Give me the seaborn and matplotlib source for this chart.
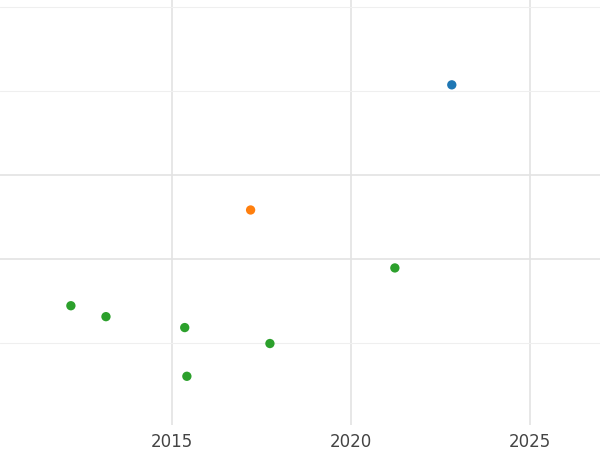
import matplotlib
matplotlib.use("Agg")
import matplotlib.pyplot as plt
import seaborn as sns
import pandas as pd
from matplotlib.ticker import MultipleLocator, FixedLocator

# data
years = [2022.82, 2017.2, 2012.18, 2013.16, 2015.36, 2015.42, 2017.74, 2021.23]
values = [4.07, 2.58, 1.44, 1.31, 1.18, 0.60, 0.99, 1.89]
groups = ["a", "b", "c", "c", "c", "c", "c", "c"]

df = pd.DataFrame({"year": years, "value": values, "group": groups})

sns.set_style("white")
fig = plt.figure(figsize=(6, 4.5), dpi=100)
ax = fig.add_axes([0, 25 / 450, 1, 425 / 450])

sns.scatterplot(data=df, x="year", y="value", hue="group",
                palette=["#1f77b4", "#ff7f0e", "#2ca02c"],
                s=45, edgecolor="none", legend=False, ax=ax, zorder=3)

ax.set_xlim(2010.2, 2026.96)
ax.set_ylim(0.02, 5.08)
ax.xaxis.set_major_locator(MultipleLocator(5))
ax.yaxis.set_major_locator(FixedLocator([2, 3]))
ax.yaxis.set_minor_locator(FixedLocator([1, 4, 5]))
ax.grid(axis="x", which="major", color="#e3e3e3", linewidth=1.2)
ax.grid(axis="y", which="major", color="#e3e3e3", linewidth=1.2)
ax.grid(axis="y", which="minor", color="#efefef", linewidth=0.8)
ax.tick_params(which="both", length=0, labelleft=False)
ax.tick_params(axis="x", labelsize=12, colors="#444444", pad=6)
ax.set_xlabel("")
ax.set_ylabel("")
for s in ax.spines.values():
    s.set_visible(False)

fig.savefig("out.png", dpi=100)
